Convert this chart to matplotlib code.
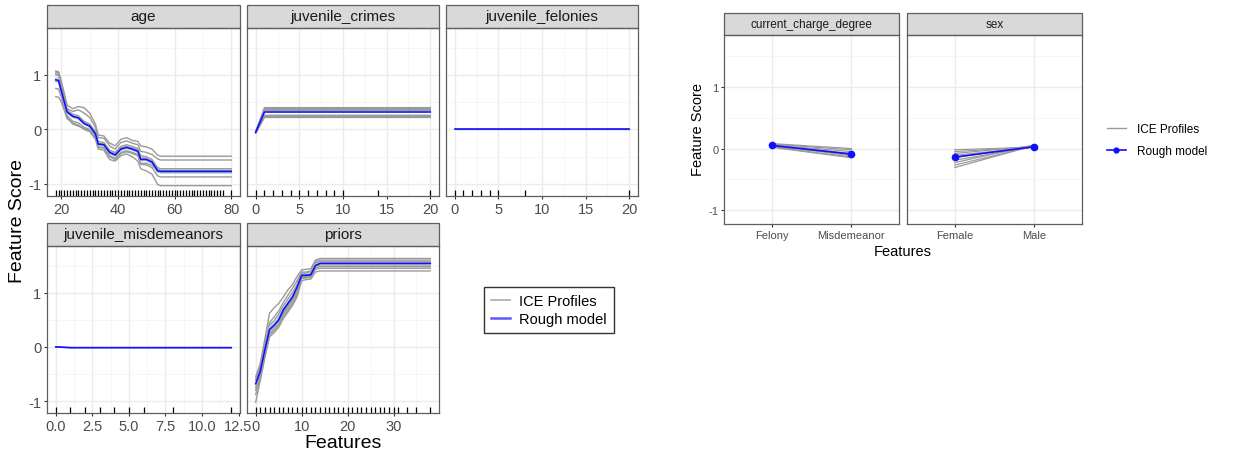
import numpy as np
import matplotlib
matplotlib.use('Agg')
import matplotlib.pyplot as plt
from matplotlib.patches import Rectangle
from matplotlib.lines import Line2D
from matplotlib.ticker import MultipleLocator, AutoMinorLocator, FormatStrFormatter

plt.rcParams['font.family'] = ['Liberation Sans', 'DejaVu Sans']
plt.rcParams['axes.unicode_minus'] = False

# ---- left plot: numeric features ----
age_x = [18, 19, 20, 22, 24, 26, 28, 30, 32, 33, 35, 37, 39, 41, 43, 45, 47, 48, 50, 52, 54, 55, 80]
age_rough = [0.91, 0.90, 0.70, 0.32, 0.24, 0.21, 0.11, 0.06, -0.08, -0.27, -0.28, -0.42, -0.47, -0.36,
             -0.33, -0.36, -0.40, -0.55, -0.55, -0.60, -0.76, -0.77, -0.77]
age_ice = [
    [1.07, 1.06, 0.88, 0.45, 0.38, 0.42, 0.40, 0.30, 0.10, -0.10, -0.12, -0.25, -0.30, -0.18, -0.15, -0.20, -0.22, -0.30, -0.32, -0.36, -0.47, -0.49, -0.49],
    [1.05, 1.04, 0.84, 0.38, 0.33, 0.36, 0.30, 0.22, 0.04, -0.15, -0.16, -0.30, -0.36, -0.24, -0.21, -0.25, -0.28, -0.40, -0.42, -0.46, -0.54, -0.56, -0.56],
    [1.02, 1.01, 0.78, 0.35, 0.28, 0.25, 0.15, 0.10, -0.04, -0.22, -0.24, -0.38, -0.42, -0.31, -0.28, -0.31, -0.35, -0.48, -0.50, -0.55, -0.70, -0.72, -0.72],
    [1.00, 0.99, 0.74, 0.33, 0.25, 0.22, 0.12, 0.07, -0.06, -0.25, -0.27, -0.40, -0.45, -0.34, -0.31, -0.34, -0.38, -0.52, -0.53, -0.58, -0.73, -0.75, -0.75],
    [0.88, 0.87, 0.65, 0.25, 0.15, 0.12, 0.04, 0.00, -0.12, -0.32, -0.33, -0.48, -0.53, -0.42, -0.39, -0.42, -0.46, -0.62, -0.62, -0.66, -0.76, -0.78, -0.78],
    [0.75, 0.74, 0.58, 0.22, 0.10, 0.06, 0.02, -0.02, -0.15, -0.33, -0.34, -0.50, -0.55, -0.44, -0.41, -0.44, -0.48, -0.64, -0.65, -0.70, -0.85, -0.87, -0.87],
    [0.60, 0.59, 0.50, 0.20, 0.12, 0.08, 0.00, -0.04, -0.18, -0.36, -0.38, -0.55, -0.58, -0.48, -0.45, -0.50, -0.58, -0.72, -0.76, -0.82, -1.01, -1.03, -1.03],
]
age_light = [0.95, 0.94, 0.70, 0.30, 0.22, 0.19, 0.09, 0.04, -0.09, -0.29, -0.30, -0.44, -0.49, -0.38, -0.35, -0.38, -0.42, -0.57, -0.57, -0.62, -0.79, -0.80, -0.80]
age_rug = list(range(18, 78)) + [80]

crimes_x = [0, 1, 20]
crimes_rough = [-0.05, 0.32, 0.32]
crimes_ice = [[-0.04, 0.40, 0.40], [-0.04, 0.38, 0.38], [-0.05, 0.37, 0.37], [-0.05, 0.36, 0.36],
              [-0.05, 0.35, 0.35], [-0.06, 0.26, 0.26], [-0.06, 0.24, 0.24], [-0.07, 0.22, 0.22]]
crimes_rug = [0, 1, 2, 3, 4, 5, 6, 7, 8, 9, 10, 14, 20]

felonies_x = [0, 20]
felonies_rough = [0.0, 0.0]
felonies_ice = [[0.0, 0.0]]
felonies_rug = [0, 1, 2, 3, 4, 5, 8, 20]

misd_x = [0, 1, 12]
misd_rough = [0.0, -0.015, -0.015]
misd_ice = [[0.0, -0.015, -0.015]]
misd_rug = [0, 1, 2, 3, 4, 5, 6, 8, 12]

priors_x = [0, 1, 2, 3, 4, 5, 6, 7, 8, 9, 10, 11, 12, 13, 14, 38]
priors_rough = [-0.68, -0.45, -0.05, 0.32, 0.40, 0.50, 0.68, 0.80, 0.92, 1.10, 1.32, 1.32, 1.33, 1.50, 1.54, 1.54]
priors_ice = [
    [-0.55, -0.30, 0.15, 0.62, 0.72, 0.80, 0.92, 1.05, 1.15, 1.30, 1.42, 1.43, 1.44, 1.60, 1.63, 1.63],
    [-0.60, -0.36, 0.05, 0.45, 0.55, 0.66, 0.82, 0.95, 1.08, 1.22, 1.38, 1.38, 1.40, 1.57, 1.60, 1.60],
    [-0.62, -0.40, 0.00, 0.40, 0.48, 0.60, 0.75, 0.88, 1.00, 1.15, 1.36, 1.36, 1.37, 1.55, 1.57, 1.57],
    [-0.75, -0.48, -0.08, 0.30, 0.38, 0.48, 0.64, 0.76, 0.88, 1.04, 1.30, 1.30, 1.32, 1.49, 1.51, 1.51],
    [-0.80, -0.52, -0.12, 0.25, 0.34, 0.44, 0.60, 0.72, 0.85, 1.00, 1.28, 1.28, 1.30, 1.46, 1.48, 1.48],
    [-0.88, -0.56, -0.15, 0.22, 0.30, 0.40, 0.56, 0.68, 0.80, 0.96, 1.26, 1.27, 1.28, 1.43, 1.45, 1.45],
    [-1.02, -0.62, -0.20, 0.18, 0.26, 0.36, 0.52, 0.64, 0.76, 0.92, 1.22, 1.24, 1.25, 1.38, 1.40, 1.40],
]
priors_light = [-0.70, -0.46, -0.06, 0.36, 0.45, 0.55, 0.70, 0.82, 0.94, 1.10, 1.33, 1.33, 1.35, 1.52, 1.55, 1.55]
priors_rug = list(range(0, 32)) + [33, 35, 38]

# ---- right plot: categorical features ----
cc_levels = ['Felony', 'Misdemeanor']
cc_rough = [0.05, -0.09]
cc_ice = [[0.07, -0.02], [0.06, -0.05], [0.05, -0.08], [0.04, -0.10], [0.06, -0.12],
          [0.03, -0.14], [0.08, 0.0], [0.02, -0.15]]
sex_levels = ['Female', 'Male']
sex_rough = [-0.14, 0.03]
sex_ice = [[-0.02, 0.02], [-0.05, 0.03], [-0.08, 0.04], [-0.11, 0.02], [-0.15, 0.05],
           [-0.19, 0.03], [-0.23, 0.06], [-0.27, 0.04], [-0.31, 0.05]]

W, H = 1238, 456
GRAY = '#9a9a9a'
BLUE = '#1010ff'
BORDER = '#5e5e5e'


def box(l, t, r, b):
    return [l / W, 1 - b / H, (r - l) / W, (b - t) / H]


def style_panel(ax, title, fs, strip_px, panel_px, show_y):
    ax.set_facecolor('white')
    ax.grid(True, which='major', color='#EBEBEB', lw=1.0)
    ax.grid(True, which='minor', color='#F4F4F4', lw=0.6)
    ax.set_axisbelow(True)
    for s in ax.spines.values():
        s.set_color(BORDER)
        s.set_linewidth(0.9)
    ax.yaxis.set_major_locator(MultipleLocator(1))
    ax.yaxis.set_minor_locator(MultipleLocator(0.5))
    ax.tick_params(which='major', length=2.5, width=0.8, color='#333333',
                   labelcolor='#4D4D4D', labelsize=fs, pad=1.5)
    ax.tick_params(which='minor', length=0)
    if not show_y:
        ax.tick_params(axis='y', which='both', length=0, labelleft=False)
    sh = strip_px / panel_px
    ax.add_patch(Rectangle((0, 1), 1, sh, transform=ax.transAxes, clip_on=False,
                           fc='#D9D9D9', ec=BORDER, lw=0.9))
    ax.text(0.5, 1 + sh / 2, title, transform=ax.transAxes, ha='center', va='center',
            fontsize=fs + 0.5, color='#1A1A1A')


def expand(lo, hi):
    d = (hi - lo) * 0.05
    return lo - d, hi + d


fig = plt.figure(figsize=(12.38, 4.56), dpi=100)
YLIM = (-1.22, 1.86)

panels = [
    ('age', age_x, age_rough, age_ice, age_light, age_rug, (47, 29, 240, 197), 20, True, False),
    ('juvenile_crimes', crimes_x, crimes_rough, crimes_ice, None, crimes_rug, (247, 29, 439, 197), 5, False, False),
    ('juvenile_felonies', felonies_x, felonies_rough, felonies_ice, None, felonies_rug, (446, 29, 638, 197), 5, False, False),
    ('juvenile_misdemeanors', misd_x, misd_rough, misd_ice, None, misd_rug, (47, 247, 240, 414), 2.5, True, True),
    ('priors', priors_x, priors_rough, priors_ice, priors_light, priors_rug, (247, 247, 439, 414), 10, False, False),
]

for name, xs, rough, ice, light, rug, pos, step, show_y, dec in panels:
    ax = fig.add_axes(box(*pos))
    for prof in ice:
        ax.plot(xs, prof, color=GRAY, lw=1.0)
    if light is not None:
        ax.plot(xs, light, color='#add8e6', lw=1.0)
    ax.plot(xs, rough, color=BLUE, lw=1.2)
    ax.vlines(rug, 0, 0.035, transform=ax.get_xaxis_transform(), color='black', lw=0.9)
    ax.set_xlim(*expand(min(xs), max(xs)))
    ax.set_ylim(*YLIM)
    ax.xaxis.set_major_locator(MultipleLocator(step))
    ax.xaxis.set_minor_locator(AutoMinorLocator(2))
    if dec:
        ax.xaxis.set_major_formatter(FormatStrFormatter('%.1f'))
    style_panel(ax, name, 10.5, 23, pos[3] - pos[1], show_y)

fig.text(18 / W, 1 - 221 / H, 'Feature Score', rotation=90, ha='center', va='center', fontsize=14)
fig.text(343 / W, 1 - 444 / H, 'Features', ha='center', va='center', fontsize=14)

leg1 = fig.legend(handles=[Line2D([], [], color='#aaaaaa', lw=1.2),
                           Line2D([], [], color='#5a5aff', lw=1.8)],
                  labels=['ICE Profiles', 'Rough model'], loc='center',
                  bbox_to_anchor=(549 / W, 1 - 311 / H), fontsize=10.5, frameon=True,
                  fancybox=False, edgecolor='black', handlelength=1.3, handletextpad=0.6,
                  borderpad=0.5, labelspacing=0.3)
leg1.get_frame().set_linewidth(1.0)

# right plot
right = [
    ('current_charge_degree', cc_levels, cc_rough, cc_ice, (724, 36, 899, 225), True),
    ('sex', sex_levels, sex_rough, sex_ice, (907, 36, 1082, 225), False),
]
for name, levels, rough, ice, pos, show_y in right:
    ax = fig.add_axes(box(*pos))
    idx = np.arange(len(levels))
    for prof in ice:
        ax.plot(idx, prof, color=GRAY, lw=0.9)
    ax.plot(idx, rough, color=BLUE, lw=1.2, marker='o', markersize=4.5)
    ax.set_xlim(-0.6, len(levels) - 0.4)
    ax.set_ylim(-1.23, 1.85)
    ax.set_xticks(idx)
    ax.set_xticklabels(levels)
    style_panel(ax, name, 8, 22, pos[3] - pos[1], show_y)
    ax.grid(False, axis='x', which='minor')

fig.text(698 / W, 1 - 130 / H, 'Feature Score', rotation=90, ha='center', va='center', fontsize=10.5)
fig.text(903 / W, 1 - 252 / H, 'Features', ha='center', va='center', fontsize=10.5)

fig.legend(handles=[Line2D([], [], color=GRAY, lw=1.0),
                    Line2D([], [], color=BLUE, lw=1.2, marker='o', markersize=3.5)],
           labels=['ICE Profiles', 'Rough model'], loc='center left',
           bbox_to_anchor=(1096 / W, 1 - 141 / H), fontsize=8.5, frameon=False,
           handlelength=1.6, handletextpad=1.0, labelspacing=0.9)

fig.savefig('out.png', dpi=100)
